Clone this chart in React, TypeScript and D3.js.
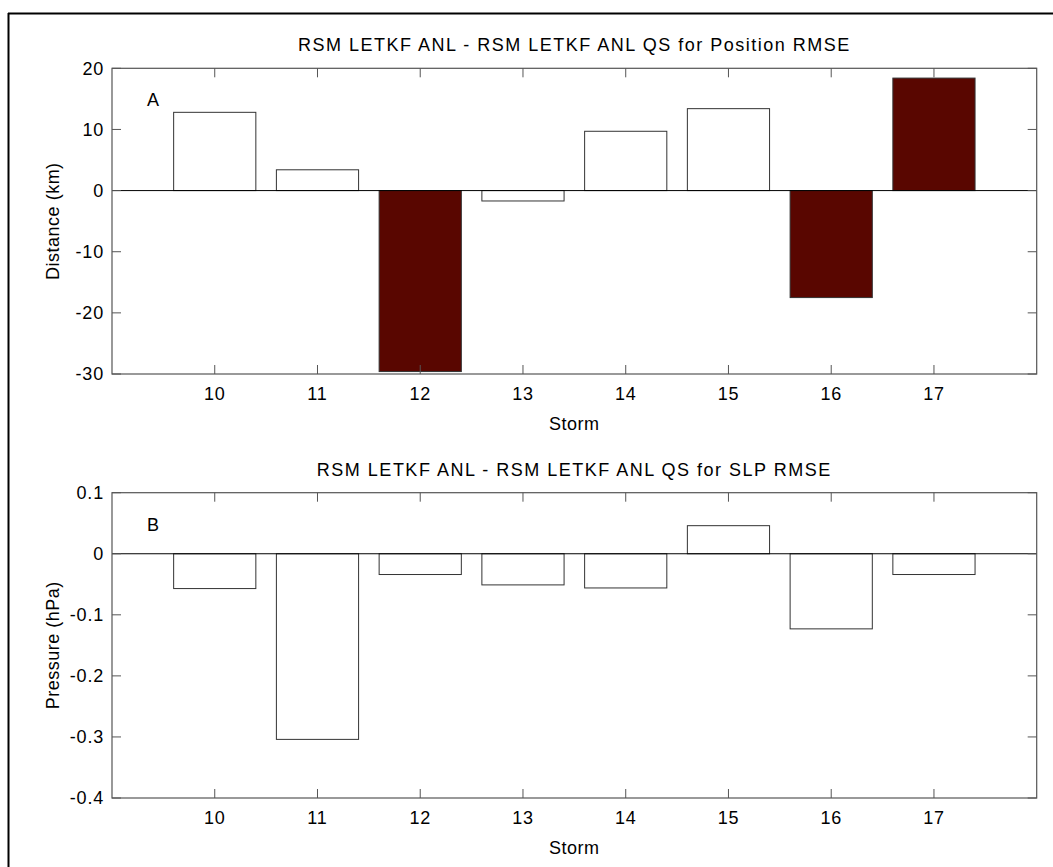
import * as d3 from "d3";
import React from "react";

const storms = [10, 11, 12, 13, 14, 15, 16, 17];
// position RMSE difference (km)
const positionDiff = [12.8, 3.4, -29.6, -1.7, 9.7, 13.4, -17.5, 18.4];
// highlighted (significant) storms in panel A
const positionSig = [false, false, true, false, false, false, true, true];
// SLP RMSE difference (hPa)
const slpDiff = [-0.057, -0.304, -0.034, -0.051, -0.056, 0.046, -0.123, -0.034];

const posTicks = [-30, -20, -10, 0, 10, 20];
const slpTicks = [-0.4, -0.3, -0.2, -0.1, 0, 0.1];

const W = 1053;
const H = 867;
const left = 112;
const right = 1036.7;
const tickLen = 9;
const font = "'Liberation Sans', Arial, Helvetica, sans-serif";
const darkFill = "#590600";
const axisColor = "#555";

const x = d3.scaleLinear().domain([9, 18]).range([left, right]);
const barW = x(0.8) - x(0);

const Panel = ({
  top,
  bottom,
  domain,
  ticks,
  values,
  sig,
  title,
  ylabel,
  letter,
  fmt,
}) => {
  const y = d3.scaleLinear().domain(domain).range([bottom, top]);
  const midY = (top + bottom) / 2;
  const midX = (left + right) / 2;
  return (
    <g fontFamily={font} fontSize={18} fill="#000">
      <text x={midX} y={top - 17} textAnchor="middle" letterSpacing={1.5}>
        {title}
      </text>
      {/* bars */}
      {storms.map((s, i) => {
        const v = values[i];
        const y0 = y(0);
        const y1 = y(v);
        return (
          <rect
            key={s}
            x={x(s) - barW / 2}
            y={Math.min(y0, y1)}
            width={barW}
            height={Math.abs(y1 - y0)}
            fill={sig && sig[i] ? darkFill : "#fff"}
            stroke="#333"
            strokeWidth={1}
          />
        );
      })}
      {/* zero line */}
      <line x1={left} x2={right} y1={y(0)} y2={y(0)} stroke="#000" strokeWidth={1} />
      {/* axes box */}
      <rect
        x={left}
        y={top}
        width={right - left}
        height={bottom - top}
        fill="none"
        stroke={axisColor}
        strokeWidth={1.2}
      />
      {/* y ticks */}
      {ticks.map((t) => (
        <g key={t}>
          <line x1={left} x2={left + tickLen} y1={y(t)} y2={y(t)} stroke={axisColor} />
          <line x1={right} x2={right - tickLen} y1={y(t)} y2={y(t)} stroke={axisColor} />
          <text x={left - 8} y={y(t)} dy="0.36em" textAnchor="end" letterSpacing={0.8}>
            {fmt(t)}
          </text>
        </g>
      ))}
      {/* x ticks */}
      {storms.map((s) => (
        <g key={s}>
          <line x1={x(s)} x2={x(s)} y1={bottom} y2={bottom - tickLen} stroke={axisColor} />
          <line x1={x(s)} x2={x(s)} y1={top} y2={top + tickLen} stroke={axisColor} />
          <text x={x(s)} y={bottom + 25.5} textAnchor="middle" letterSpacing={0.8}>
            {s}
          </text>
        </g>
      ))}
      <text x={midX} y={bottom + 56} textAnchor="middle" letterSpacing={0.5}>
        Storm
      </text>
      <text
        transform={`translate(59, ${midY}) rotate(-90)`}
        textAnchor="middle"
        letterSpacing={0.5}
      >
        {ylabel}
      </text>
      <text x={147} y={top + 38}>
        {letter}
      </text>
    </g>
  );
};

export default function App() {
  return (
    <svg
      width={W}
      height={H}
      style={{ position: "absolute", left: 0, top: 0, background: "#fff" }}
    >
      <rect x={0} y={0} width={W} height={H} fill="#fff" />
      {/* outer frame */}
      <line x1={8.5} x2={8.5} y1={13} y2={H} stroke="#000" strokeWidth={2} />
      <line x1={8} x2={W} y1={13.5} y2={13.5} stroke="#000" strokeWidth={2} />
      <Panel
        top={68.3}
        bottom={374}
        domain={[-30, 20]}
        ticks={posTicks}
        values={positionDiff}
        sig={positionSig}
        title="RSM LETKF ANL - RSM LETKF ANL QS for Position RMSE"
        ylabel="Distance (km)"
        letter="A"
        fmt={(t) => String(t)}
      />
      <Panel
        top={492.7}
        bottom={798}
        domain={[-0.4, 0.1]}
        ticks={slpTicks}
        values={slpDiff}
        sig={null}
        title="RSM LETKF ANL - RSM LETKF ANL QS for SLP RMSE"
        ylabel="Pressure (hPa)"
        letter="B"
        fmt={(t) => String(+t.toFixed(1))}
      />
    </svg>
  );
}
